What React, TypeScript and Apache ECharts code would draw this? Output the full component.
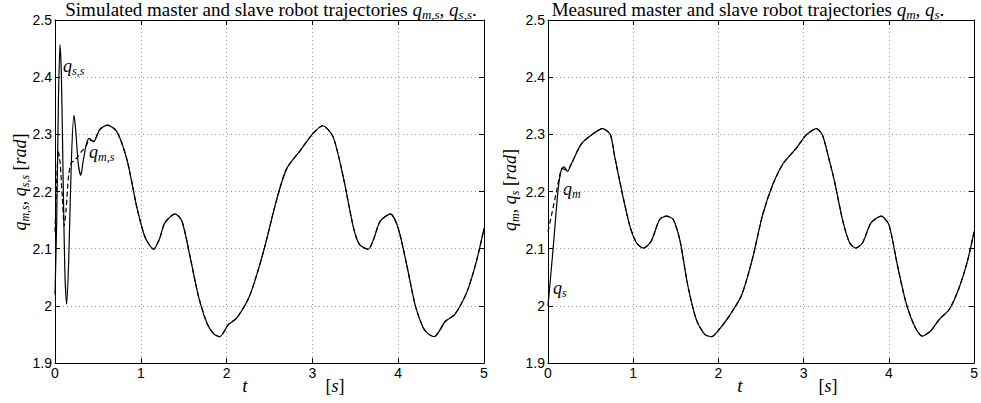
import React, { useEffect, useRef } from 'react';
import * as echarts from 'echarts';

// ---- Data ----
// Simulated slave trajectory q_{s,s} (solid, left panel)
const simSlaveT = [0, 0.02, 0.04, 0.058, 0.075, 0.095, 0.115, 0.136, 0.16, 0.19, 0.22, 0.24, 0.27, 0.30, 0.33, 0.37, 0.40, 0.45, 0.52, 0.61, 0.72, 0.84, 0.95, 1.05, 1.15, 1.22, 1.28, 1.40, 1.48, 1.57, 1.67, 1.77, 1.85, 1.92, 2.02, 2.12, 2.27, 2.43, 2.58, 2.70, 2.86, 3.01, 3.12, 3.24, 3.36, 3.48, 3.55, 3.65, 3.71, 3.79, 3.91, 4.00, 4.10, 4.20, 4.29, 4.35, 4.42, 4.55, 4.66, 4.80, 4.91, 5.0];
const simSlaveV = [2.02, 2.15, 2.36, 2.457, 2.40, 2.22, 2.06, 2.003, 2.08, 2.25, 2.333, 2.31, 2.25, 2.228, 2.255, 2.285, 2.293, 2.287, 2.308, 2.316, 2.305, 2.255, 2.175, 2.12, 2.099, 2.118, 2.145, 2.161, 2.148, 2.089, 2.018, 1.97, 1.951, 1.946, 1.967, 1.979, 2.018, 2.095, 2.184, 2.24, 2.272, 2.302, 2.315, 2.296, 2.225, 2.136, 2.107, 2.099, 2.115, 2.148, 2.161, 2.136, 2.071, 2.0, 1.962, 1.951, 1.946, 1.973, 1.985, 2.024, 2.077, 2.135];
// Simulated master trajectory q_{m,s} (dashed, left panel): transient, then it follows the slave
const simMasterStartT = [0, 0.02, 0.04, 0.06, 0.085, 0.108, 0.13, 0.16, 0.19, 0.23, 0.27, 0.31, 0.34, 0.37, 0.40, 0.45];
const simMasterStartV = [2.13, 2.22, 2.27, 2.25, 2.19, 2.14, 2.17, 2.23, 2.25, 2.255, 2.262, 2.27, 2.275, 2.282, 2.29, 2.288];

// Measured slave trajectory q_s (solid, right panel)
const measSlaveT = [0, 0.06, 0.12, 0.16, 0.19, 0.23, 0.27, 0.39, 0.51, 0.64, 0.73, 0.78, 0.86, 0.96, 1.04, 1.12, 1.21, 1.31, 1.39, 1.47, 1.55, 1.64, 1.74, 1.84, 1.92, 2.01, 2.13, 2.27, 2.40, 2.52, 2.64, 2.76, 2.91, 3.03, 3.15, 3.22, 3.30, 3.36, 3.46, 3.54, 3.61, 3.69, 3.79, 3.91, 4.00, 4.10, 4.20, 4.30, 4.39, 4.49, 4.59, 4.71, 4.82, 4.92, 5.0];
const measSlaveV = [2.0, 2.1, 2.205, 2.24, 2.243, 2.235, 2.247, 2.283, 2.299, 2.31, 2.3, 2.263, 2.205, 2.14, 2.11, 2.101, 2.113, 2.151, 2.157, 2.151, 2.113, 2.036, 1.976, 1.95, 1.946, 1.959, 1.983, 2.018, 2.083, 2.16, 2.213, 2.249, 2.275, 2.299, 2.31, 2.299, 2.255, 2.219, 2.148, 2.11, 2.101, 2.11, 2.145, 2.157, 2.142, 2.071, 2.006, 1.965, 1.947, 1.956, 1.976, 1.994, 2.03, 2.077, 2.13];
// Measured master trajectory q_m (dashed, right panel): transient, then it follows the slave
const measMasterStartT = [0, 0.05, 0.10, 0.14, 0.17, 0.21, 0.25];
const measMasterStartV = [2.13, 2.165, 2.2, 2.23, 2.24, 2.238, 2.242];

// Axis ticks
const xMin = 0, xMax = 5, xStep = 1;
const yMin = 1.9, yMax = 2.5, yStep = 0.1;

const pairs = (t: number[], v: number[]) => t.map((x, i) => [x, v[i]]);
const follow = (startT: number[], startV: number[], t: number[], v: number[]) => {
  const last = startT[startT.length - 1];
  const out = pairs(startT, startV);
  t.forEach((x, i) => { if (x > last) out.push([x, v[i]]); });
  return out;
};

const SERIF = '"Liberation Serif", "DejaVu Serif", serif';
const SANS = '"Liberation Sans", Arial, sans-serif';

const rich = (fs: number) => ({
  r: { fontFamily: SERIF, fontSize: fs, fill: '#000' },
  i: { fontFamily: SERIF, fontSize: fs, fontStyle: 'italic', fill: '#000' },
  s: { fontFamily: SERIF, fontSize: Math.round(fs * 0.68), fontStyle: 'italic', fill: '#000', padding: [Math.round(fs * 0.5), 0, 0, 0] },
});

export default function App() {
  const ref = useRef<HTMLDivElement>(null);
  useEffect(() => {
    if (!ref.current) return;
    const chart = echarts.init(ref.current, undefined, { renderer: 'svg' });
    const grids = [
      { left: 55, right: 497, top: 20, bottom: 40 },
      { left: 548, right: 6, top: 20, bottom: 40 },
    ];
    const xAxes: any[] = [];
    const yAxes: any[] = [];
    [0, 1].forEach((g) => {
      const common = {
        type: 'value', gridIndex: g, min: xMin, max: xMax, interval: xStep,
        axisLine: { show: true, onZero: false, lineStyle: { color: '#000', width: 1 } },
        axisTick: { show: true, inside: true, length: 5, lineStyle: { color: '#000' } },
      };
      xAxes.push({
        ...common, position: 'bottom',
        axisLabel: { color: '#000', fontFamily: SANS, fontSize: 14, margin: 3 },
        splitLine: { show: true, lineStyle: { color: '#9a9a9a', type: [1, 3], width: 1 } },
      });
      xAxes.push({ ...common, position: 'top', axisLabel: { show: false }, splitLine: { show: false } });
      const ycommon = {
        type: 'value', gridIndex: g, min: yMin, max: yMax, interval: yStep,
        axisLine: { show: true, onZero: false, lineStyle: { color: '#000', width: 1 } },
        axisTick: { show: true, inside: true, length: 5, lineStyle: { color: '#000' } },
      };
      yAxes.push({
        ...ycommon, position: 'left',
        axisLabel: { color: '#000', fontFamily: SANS, fontSize: 14, margin: 3, formatter: (v: number) => String(Math.round(v * 10) / 10) },
        splitLine: { show: true, lineStyle: { color: '#9a9a9a', type: [1, 3], width: 1 } },
      });
      yAxes.push({ ...ycommon, position: 'right', axisLabel: { show: false }, splitLine: { show: false } });
    });

    const line = (data: number[][], xi: number, yi: number, dashed: boolean) => ({
      type: 'line', data, xAxisIndex: xi, yAxisIndex: yi, showSymbol: false, smooth: 0.25,
      lineStyle: { color: '#000', width: 1.2, type: dashed ? [5, 3] : 'solid' },
      z: dashed ? 3 : 2,
    });

    const txt = (x: number, y: number, text: string, fs: number, align = 'left', rotation = 0) => ({
      type: 'text', x, y, rotation,
      style: { text, align, verticalAlign: 'middle', rich: rich(fs), fill: '#000' },
    });

    chart.setOption({
      animation: false,
      backgroundColor: '#fff',
      grid: grids,
      xAxis: xAxes,
      yAxis: yAxes,
      series: [
        line(pairs(simSlaveT, simSlaveV), 0, 0, false),
        line(follow(simMasterStartT, simMasterStartV, simSlaveT, simSlaveV), 0, 0, true),
        line(pairs(measSlaveT, measSlaveV), 2, 2, false),
        line(follow(measMasterStartT, measMasterStartV, measSlaveT, measSlaveV), 2, 2, true),
      ],
      graphic: [
        txt(271, 9, '{r|Simulated master and slave robot trajectories }{i|q}{s|m,s}{r|, }{i|q}{s|s,s}{r|.}', 19, 'center'),
        txt(748, 9, '{r|Measured master and slave robot trajectories }{i|q}{s|m}{r|, }{i|q}{s|s}{r|.}', 19, 'center'),
        txt(20, 182, '{i|q}{s|m,s}{r|, }{i|q}{s|s,s}{r| [}{i|rad}{r|]}', 18, 'center', Math.PI / 2),
        txt(510, 190, '{i|q}{s|m}{r|, }{i|q}{s|s}{r| [}{i|rad}{r|]}', 18, 'center', Math.PI / 2),
        txt(245, 385, '{i|t}', 19, 'center'),
        txt(335, 386, '{r|[}{i|s}{r|]}', 18, 'center'),
        txt(740, 385, '{i|t}', 19, 'center'),
        txt(828, 386, '{r|[}{i|s}{r|]}', 18, 'center'),
        txt(63, 66, '{i|q}{s|s,s}', 18, 'left'),
        txt(89, 152, '{i|q}{s|m,s}', 18, 'left'),
        txt(563, 189, '{i|q}{s|m}', 18, 'left'),
        txt(553, 288, '{i|q}{s|s}', 18, 'left'),
      ],
    });
    return () => chart.dispose();
  }, []);
  return <div ref={ref} style={{ position: 'absolute', left: 0, top: 0, width: 981, height: 403 }} />;
}
